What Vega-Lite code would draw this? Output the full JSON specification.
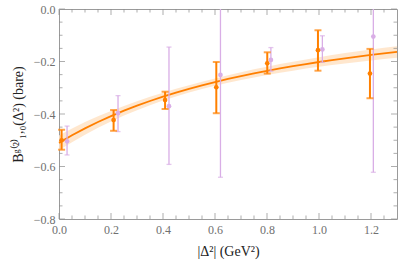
{
  "$schema": "https://vega.github.io/schema/vega-lite/v6.json",
  "width": 338,
  "height": 210,
  "autosize": {"type": "none"},
  "padding": {"left": 59, "top": 9, "right": 2, "bottom": 46},
  "background": "white",
  "config": {
    "view": {"stroke": "#9a9a9a", "strokeWidth": 1},
    "axis": {
      "grid": false, "domain": false, "ticks": false, "labelFlush": false,
      "labelFont": "Liberation Serif", "labelFontSize": 12, "labelColor": "#707070",
      "titleFont": "Liberation Serif", "titleFontSize": 14, "titleColor": "#222222", "titleFontWeight": "normal"
    }
  },
  "datasets": {
    "orange": [
      {"x": 0.01, "y": -0.500, "lo": -0.536, "hi": -0.460},
      {"x": 0.21, "y": -0.423, "lo": -0.464, "hi": -0.385},
      {"x": 0.408, "y": -0.347, "lo": -0.381, "hi": -0.315},
      {"x": 0.605, "y": -0.298, "lo": -0.397, "hi": -0.202},
      {"x": 0.801, "y": -0.207, "lo": -0.246, "hi": -0.165},
      {"x": 0.996, "y": -0.157, "lo": -0.235, "hi": -0.081},
      {"x": 1.196, "y": -0.246, "lo": -0.340, "hi": -0.152}
    ],
    "purple": [
      {"x": 0.031, "y": -0.504, "lo": -0.556, "hi": -0.446},
      {"x": 0.227, "y": -0.397, "lo": -0.467, "hi": -0.330},
      {"x": 0.423, "y": -0.370, "lo": -0.592, "hi": -0.145},
      {"x": 0.621, "y": -0.251, "lo": -0.641, "hi": 0.139},
      {"x": 0.815, "y": -0.194, "lo": -0.237, "hi": -0.147},
      {"x": 1.013, "y": -0.154, "lo": -0.203, "hi": -0.102},
      {"x": 1.209, "y": -0.105, "lo": -0.622, "hi": 0.412}
    ],
    "fit": [
      {"x": 0.0, "y": -0.5100, "lo": -0.5380, "hi": -0.4820},
      {"x": 0.05, "y": -0.4812, "lo": -0.5072, "hi": -0.4552},
      {"x": 0.1, "y": -0.4548, "lo": -0.4788, "hi": -0.4308},
      {"x": 0.15, "y": -0.4305, "lo": -0.4525, "hi": -0.4085},
      {"x": 0.2, "y": -0.4081, "lo": -0.4281, "hi": -0.3881},
      {"x": 0.25, "y": -0.3874, "lo": -0.4054, "hi": -0.3694},
      {"x": 0.3, "y": -0.3683, "lo": -0.3853, "hi": -0.3513},
      {"x": 0.35, "y": -0.3505, "lo": -0.3665, "hi": -0.3345},
      {"x": 0.4, "y": -0.3340, "lo": -0.3490, "hi": -0.3190},
      {"x": 0.45, "y": -0.3186, "lo": -0.3331, "hi": -0.3041},
      {"x": 0.5, "y": -0.3043, "lo": -0.3183, "hi": -0.2903},
      {"x": 0.55, "y": -0.2909, "lo": -0.3049, "hi": -0.2769},
      {"x": 0.6, "y": -0.2784, "lo": -0.2924, "hi": -0.2644},
      {"x": 0.65, "y": -0.2666, "lo": -0.2811, "hi": -0.2521},
      {"x": 0.7, "y": -0.2556, "lo": -0.2706, "hi": -0.2406},
      {"x": 0.75, "y": -0.2453, "lo": -0.2608, "hi": -0.2298},
      {"x": 0.8, "y": -0.2356, "lo": -0.2516, "hi": -0.2196},
      {"x": 0.85, "y": -0.2264, "lo": -0.2429, "hi": -0.2099},
      {"x": 0.9, "y": -0.2178, "lo": -0.2348, "hi": -0.2008},
      {"x": 0.95, "y": -0.2096, "lo": -0.2271, "hi": -0.1921},
      {"x": 1.0, "y": -0.2019, "lo": -0.2199, "hi": -0.1839},
      {"x": 1.05, "y": -0.1946, "lo": -0.2136, "hi": -0.1756},
      {"x": 1.1, "y": -0.1877, "lo": -0.2077, "hi": -0.1677},
      {"x": 1.15, "y": -0.1812, "lo": -0.2017, "hi": -0.1607},
      {"x": 1.2, "y": -0.1750, "lo": -0.1960, "hi": -0.1540},
      {"x": 1.25, "y": -0.1691, "lo": -0.1906, "hi": -0.1476},
      {"x": 1.3, "y": -0.1635, "lo": -0.1855, "hi": -0.1415}
    ],
    "xmajor": [{"v": 0}, {"v": 0.2}, {"v": 0.4}, {"v": 0.6}, {"v": 0.8}, {"v": 1.0}, {"v": 1.2}],
    "xminor": [{"v": 0.05}, {"v": 0.1}, {"v": 0.15}, {"v": 0.25}, {"v": 0.3}, {"v": 0.35}, {"v": 0.45}, {"v": 0.5}, {"v": 0.55}, {"v": 0.65}, {"v": 0.7}, {"v": 0.75}, {"v": 0.85}, {"v": 0.9}, {"v": 0.95}, {"v": 1.05}, {"v": 1.1}, {"v": 1.15}, {"v": 1.25}],
    "ymajor": [{"v": -0.8}, {"v": -0.6}, {"v": -0.4}, {"v": -0.2}, {"v": 0}],
    "yminor": [{"v": -0.75}, {"v": -0.7}, {"v": -0.65}, {"v": -0.55}, {"v": -0.5}, {"v": -0.45}, {"v": -0.35}, {"v": -0.3}, {"v": -0.25}, {"v": -0.15}, {"v": -0.1}, {"v": -0.05}]
  },
  "layer": [
    {
      "data": {"name": "fit"},
      "mark": {"type": "area", "color": "#ffe3c6", "opacity": 0.85},
      "encoding": {
        "x": {"field": "x", "type": "quantitative", "scale": {"domain": [0, 1.3], "nice": false, "zero": false},
          "axis": {"orient": "bottom", "values": [0, 0.2, 0.4, 0.6, 0.8, 1.0, 1.2], "format": ".1f", "labelPadding": 5, "title": "|Δ²|  (GeV²)", "titlePadding": 9}},
        "y": {"field": "lo", "type": "quantitative", "scale": {"domain": [-0.8, 0], "nice": false, "zero": false},
          "axis": {"orient": "left", "values": [-0.8, -0.6, -0.4, -0.2, 0], "format": ".1f", "labelPadding": 4, "title": "Bᵍ⁽²⁾₁,₀(Δ²) (bare)", "titlePadding": 8}},
        "y2": {"field": "hi"}
      }
    },
    {
      "data": {"name": "fit"},
      "mark": {"type": "line", "color": "#ff7f00", "strokeWidth": 1.8},
      "encoding": {
        "x": {"field": "x", "type": "quantitative"},
        "y": {"field": "y", "type": "quantitative"}
      }
    },
    {
      "data": {"name": "xmajor"},
      "mark": {"type": "tick", "orient": "vertical", "color": "#8c8c8c", "size": 6, "thickness": 1},
      "encoding": {"x": {"field": "v", "type": "quantitative"}, "y": {"datum": -0.78857, "type": "quantitative"}}
    },
    {
      "data": {"name": "xmajor"},
      "mark": {"type": "tick", "orient": "vertical", "color": "#8c8c8c", "size": 6, "thickness": 1},
      "encoding": {"x": {"field": "v", "type": "quantitative"}, "y": {"datum": -0.01143, "type": "quantitative"}}
    },
    {
      "data": {"name": "xminor"},
      "mark": {"type": "tick", "orient": "vertical", "color": "#8c8c8c", "size": 3.5, "thickness": 1},
      "encoding": {"x": {"field": "v", "type": "quantitative"}, "y": {"datum": -0.79333, "type": "quantitative"}}
    },
    {
      "data": {"name": "xminor"},
      "mark": {"type": "tick", "orient": "vertical", "color": "#8c8c8c", "size": 3.5, "thickness": 1},
      "encoding": {"x": {"field": "v", "type": "quantitative"}, "y": {"datum": -0.00667, "type": "quantitative"}}
    },
    {
      "data": {"name": "ymajor"},
      "mark": {"type": "tick", "orient": "horizontal", "color": "#8c8c8c", "size": 6, "thickness": 1},
      "encoding": {"y": {"field": "v", "type": "quantitative"}, "x": {"datum": 0.01154, "type": "quantitative"}}
    },
    {
      "data": {"name": "ymajor"},
      "mark": {"type": "tick", "orient": "horizontal", "color": "#8c8c8c", "size": 6, "thickness": 1},
      "encoding": {"y": {"field": "v", "type": "quantitative"}, "x": {"datum": 1.28846, "type": "quantitative"}}
    },
    {
      "data": {"name": "yminor"},
      "mark": {"type": "tick", "orient": "horizontal", "color": "#8c8c8c", "size": 3.5, "thickness": 1},
      "encoding": {"y": {"field": "v", "type": "quantitative"}, "x": {"datum": 0.00673, "type": "quantitative"}}
    },
    {
      "data": {"name": "yminor"},
      "mark": {"type": "tick", "orient": "horizontal", "color": "#8c8c8c", "size": 3.5, "thickness": 1},
      "encoding": {"y": {"field": "v", "type": "quantitative"}, "x": {"datum": 1.29327, "type": "quantitative"}}
    },
    {
      "data": {"name": "purple"},
      "mark": {"type": "rule", "color": "#d9aee6", "strokeWidth": 1.3, "clip": true},
      "encoding": {
        "x": {"field": "x", "type": "quantitative"},
        "y": {"field": "lo", "type": "quantitative"},
        "y2": {"field": "hi"}
      }
    },
    {
      "data": {"name": "purple"},
      "mark": {"type": "tick", "orient": "horizontal", "color": "#d9aee6", "size": 5, "thickness": 1.3, "clip": true},
      "encoding": {
        "x": {"field": "x", "type": "quantitative"},
        "y": {"field": "lo", "type": "quantitative"}
      }
    },
    {
      "data": {"name": "purple"},
      "mark": {"type": "tick", "orient": "horizontal", "color": "#d9aee6", "size": 5, "thickness": 1.3, "clip": true},
      "encoding": {
        "x": {"field": "x", "type": "quantitative"},
        "y": {"field": "hi", "type": "quantitative"}
      }
    },
    {
      "data": {"name": "purple"},
      "mark": {"type": "circle", "color": "#d9aee6", "size": 22, "opacity": 1},
      "encoding": {
        "x": {"field": "x", "type": "quantitative"},
        "y": {"field": "y", "type": "quantitative"}
      }
    },
    {
      "data": {"name": "orange"},
      "mark": {"type": "rule", "color": "#ff8000", "strokeWidth": 2},
      "encoding": {
        "x": {"field": "x", "type": "quantitative"},
        "y": {"field": "lo", "type": "quantitative"},
        "y2": {"field": "hi"}
      }
    },
    {
      "data": {"name": "orange"},
      "mark": {"type": "tick", "orient": "horizontal", "color": "#ff8000", "size": 7, "thickness": 2},
      "encoding": {
        "x": {"field": "x", "type": "quantitative"},
        "y": {"field": "lo", "type": "quantitative"}
      }
    },
    {
      "data": {"name": "orange"},
      "mark": {"type": "tick", "orient": "horizontal", "color": "#ff8000", "size": 7, "thickness": 2},
      "encoding": {
        "x": {"field": "x", "type": "quantitative"},
        "y": {"field": "hi", "type": "quantitative"}
      }
    },
    {
      "data": {"name": "orange"},
      "mark": {"type": "circle", "color": "#ff8000", "size": 22, "opacity": 1},
      "encoding": {
        "x": {"field": "x", "type": "quantitative"},
        "y": {"field": "y", "type": "quantitative"}
      }
    }
  ]
}
